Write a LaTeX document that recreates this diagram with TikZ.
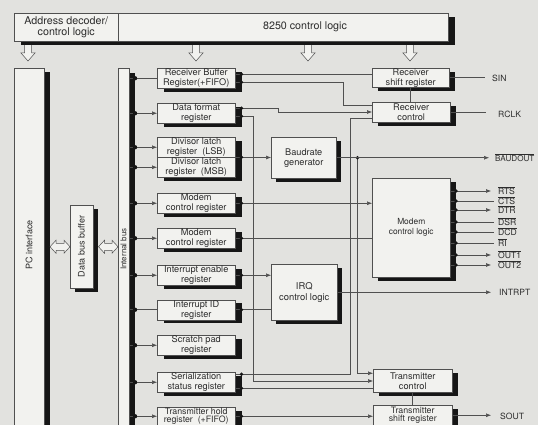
\documentclass[tikz,border=0pt]{standalone}
\usepackage{fontspec}
\setmainfont{TeX Gyre Heros}
\usetikzlibrary{shadows,arrows.meta,calc}
\definecolor{bg}{RGB}{226,226,223}
\definecolor{boxc}{RGB}{242,242,239}
\definecolor{linec}{RGB}{80,80,80}
\definecolor{shc}{RGB}{22,22,22}
\definecolor{txt}{RGB}{45,45,45}
\newsavebox\ovlbox
\newcommand\ovl[1]{\sbox\ovlbox{#1}\rlap{\rule[\dimexpr\ht\ovlbox+0.9pt\relax]{\wd\ovlbox}{0.45pt}}\usebox\ovlbox}
\newcommand\DnArr[1]{\draw[hollow] let \p1=(#1) in (\x1-3.5pt,\y1) -- (\x1-3.5pt,\y1-13pt) -- (\x1-7pt,\y1-13pt) -- (\x1,\y1-21pt) -- (\x1+7pt,\y1-13pt) -- (\x1+3.5pt,\y1-13pt) -- (\x1+3.5pt,\y1);}
\newcommand\DblArr[2]{\draw[hollow] let \p1=(#1), \p2=(#2) in (\x1,\y1) -- (\x1+6pt,\y1+6.5pt) -- (\x1+6pt,\y1+3.5pt) -- (\x2-6pt,\y1+3.5pt) -- (\x2-6pt,\y1+6.5pt) -- (\x2,\y1) -- (\x2-6pt,\y1-6.5pt) -- (\x2-6pt,\y1-3.5pt) -- (\x1+6pt,\y1-3.5pt) -- (\x1+6pt,\y1-6.5pt) -- cycle;}
\begin{document}
\begin{tikzpicture}[x=1pt,y=-1pt,
  every node/.style={text=txt},
  shad/.style 2 args={general shadow={fill=shc, draw=none, shadow xshift=#1, shadow yshift=#2}},
  blk/.style={draw=linec, line width=0.5pt, fill=boxc, inner sep=0pt, align=center,
    font=\fontsize{9.2}{10}\selectfont, anchor=north west},
  reg/.style={blk, shad={6.5pt}{-3.5pt}, minimum width=78pt, minimum height=20pt},
  topf/.style={font=\fontsize{10.7}{11}\selectfont},
  conn/.style={draw=linec, line width=0.6pt},
  arr/.style={conn, -{Latex[length=5pt,width=4pt]}},
  sig/.style={font=\fontsize{8.6}{9}\selectfont, anchor=west, inner sep=0pt},
  hollow/.style={draw=linec, line width=0.5pt, fill=boxc, line join=miter}
]
\useasboundingbox (0,0) rectangle (538,425);
\fill[bg] (0,0) rectangle (538,425);

% hollow arrows from control logic
\coordinate (ta1) at (28,40);
\coordinate (ta2) at (196,40);
\coordinate (ta3) at (308,40);
\coordinate (ta4) at (410,40);
\foreach \c in {ta1,ta2,ta3,ta4} {\DnArr{\c}}

% top bar
\node[blk, topf, shad={7pt}{-3.5pt}, minimum width=104pt, minimum height=28pt] (addr) at (14,13) {Address decoder/\\control logic};
\node[blk, shad={7pt}{-3.5pt}, minimum width=330pt, minimum height=28pt] (ctl) at (118,13) {};
\node[topf, inner sep=0pt] (ctltxt) at (305,27) {8250 control logic};

% PC interface, data bus buffer, internal bus
\node[blk, shad={5.5pt}{-4pt}, minimum width=30pt, minimum height=380pt] (pci) at (14,68) {};
\node[rotate=90, font=\fontsize{9}{10}\selectfont, inner sep=0pt] (pcit) at (29,245) {PC interface};
\node[blk, shad={5pt}{-4pt}, minimum width=23pt, minimum height=83pt] (dbb) at (70,205) {};
\node[rotate=90, font=\fontsize{9}{10}\selectfont, inner sep=0pt] (dbbt) at (81.5,246.5) {Data bus buffer};
\node[blk, shad={6pt}{-5pt}, minimum width=11pt, minimum height=380pt] (ibus) at (118,68) {};
\node[rotate=90, font=\fontsize{8}{9}\selectfont, inner sep=0pt] (ibust) at (123.5,249) {Internal bus};

\DblArr{$(pci.east |- dbb.west)+(5.5,0)$}{dbb.west}
\DblArr{$(dbb.east)+(5,0)$}{ibus.west |- dbb.east}

% registers
\node[reg] (rbr) at (157,68) {Receiver Buffer\\Register(+FIFO)};
\node[reg] (dfr) at (157,103) {Data format\\register};
\node[reg] (lsb) at (157,137) {Divisor latch\\register\ \ (LSB)};
\node[reg] (msb) at (157,157) {Divisor latch\\register\ \ (MSB)};
\node[reg] (mc1) at (157,193) {Modem\\control register};
\node[reg] (mc2) at (157,228) {Modem\\control register};
\node[reg] (ier) at (157,265) {Interrupt enable\\register};
\node[reg] (iid) at (157,299.5) {Interrupt ID\\register};
\node[reg] (spr) at (157,335) {Scratch pad\\register};
\node[reg] (ssr) at (157,372) {Serialization\\status register};
\node[reg, minimum height=18pt, font=\fontsize{8.8}{8.8}\selectfont] (thr) at (157,407) {Transmitter hold\\register\ \ (+FIFO)};

% middle and right blocks
\node[blk, shad={5pt}{-4pt}, minimum width=65pt, minimum height=41pt] (baud) at (271,137) {Baudrate\\generator};
\node[blk, shad={5pt}{-4pt}, minimum width=66pt, minimum height=56pt, font=\fontsize{9.4}{11}\selectfont] (irq) at (271,264) {IRQ\\control logic};
\node[blk, shad={6pt}{-3.5pt}, minimum width=77pt, minimum height=19pt] (rsr) at (372,68) {Receiver\\shift register};
\node[blk, shad={6pt}{-3.5pt}, minimum width=78pt, minimum height=20pt] (rc) at (372,102) {Receiver\\control};
\node[blk, shad={6pt}{-4pt}, minimum width=78pt, minimum height=99pt, font=\fontsize{8.4}{10}\selectfont] (mcl) at (372,178) {Modem\\control logic};
\node[blk, shad={6pt}{-3.5pt}, minimum width=79pt, minimum height=23pt] (tc) at (373,369) {Transmitter\\control};
\node[blk, shad={6pt}{-3.5pt}, minimum width=79pt, minimum height=20pt, font=\fontsize{8.8}{8.8}\selectfont] (tsr) at (373,405) {Transmitter\\shift register};

% internal bus to registers
\foreach \r in {dfr,lsb,msb,mc1,mc2,ier,spr,ssr,thr} {\draw[arr] (ibus.east |- \r.west) -- (\r.west);}
\foreach \r in {rbr,iid} {\draw[conn] (ibus.east |- \r.west) -- (\r.west);}
\foreach \r in {rbr,dfr,lsb,msb,mc1,mc2,ier,iid,spr,ssr,thr} {\fill[shc] ($(ibus.east |- \r.west)+(5.5,0)$) circle (2.2);}

% bend points
\coordinate (k1) at (343,105);
\coordinate (k2) at (278,112);
\coordinate (k3) at (253,381);
\coordinate (k4) at (350,118);
\path (baud.east) -- ++(21,0) coordinate (d1);

% register outputs
\draw[conn] ([yshift=4pt]rbr.east) -- ([yshift=4pt]rbr.east -| rsr.west);
\draw[conn] ([yshift=-4pt]rbr.east) -| (k1) -- (k1 -| rc.west);
\draw[arr] ([yshift=5pt]dfr.east) -| (k2) -- (k2 -| rc.west);
\draw[arr] ([yshift=-3pt]dfr.east) -| (k3) -- (k3 -| tc.west);
\draw[arr] (lsb.south east) -- (lsb.south east -| baud.west);
\draw[arr] (mc1.east) -- (mc1.east -| mcl.west);
\draw[conn] (mc2.east) -- (mc2.east -| mcl.west);
\draw[arr] (ier.east) -- (ier.east -| irq.west);
\draw[conn] (iid.east) -- (iid.east -| irq.west);
\draw[conn] ([yshift=8pt]ssr.east) -| (k4) -- (k4 -| rc.west);
\draw[conn] ([yshift=-6pt]ssr.east) -- ([yshift=-6pt]ssr.east -| tc.west);
\draw[arr] (thr.east) -- (thr.east -| tsr.west);
\draw[arr] (d1) |- ([yshift=7.5pt]tc.west);
\fill[shc] (d1) circle (1.8);
\draw[conn] (rsr.south) -- (rsr.south |- rc.north);
\draw[conn] (tc.south) -- (tc.south |- tsr.north);

% dots where outputs leave the shadows
\foreach \nd/\dy in {rbr/-4, rbr/4, dfr/-5, dfr/3, lsb/10, mc1/0, mc2/0, ier/0, iid/0, ssr/-8, ssr/6, thr/0}
  {\fill[shc] ($(\nd.east)+(6,\dy)$) circle (1.9);}

% external signals
\node[sig] (sin) at (492,78) {SIN};
\draw[conn] (rsr.east) -- ($(rsr.east -| sin.west)+(-7,0)$);
\node[sig] (rclk) at (498,114) {RCLK};
\draw[conn] (rc.east) -- ($(rc.east -| rclk.west)+(-12,0)$);
\node[sig, font=\fontsize{8.1}{9}\selectfont] (bo) at (495,157.5) {\ovl{BAUDOUT}};
\draw[arr] (baud.east) -- ($(baud.east -| bo.west)+(-6,0)$);
\node[sig] (intr) at (499,292) {INTRPT};
\draw[arr] (irq.east) -- ($(irq.east -| intr.west)+(-8,0)$);
\node[sig] (sout) at (500,416) {SOUT};
\draw[arr] (tsr.east) -- ($(tsr.east -| sout.west)+(-9,0)$);

\foreach \y/\nm/\tx in {191/rts/RTS, 210/dtr/DTR, 255/outa/OUT1, 265/outb/OUT2} {
  \node[sig] (\nm) at (498,\y) {\ovl{\tx}};
  \draw[arr] (mcl.east |- \nm.west) -- ($(\nm.west)+(-7,0)$);
  \fill[shc] ($(mcl.east |- \nm.west)+(5.5,0)$) circle (1.9);
}
\foreach \y/\nm/\tx in {201/cts/CTS, 222/dsr/DSR, 232/dcd/DCD, 243/ri/RI} {
  \node[sig] (\nm) at (498,\y) {\ovl{\tx}};
  \draw[conn] (mcl.east |- \nm.west) -- ($(\nm.west)+(-4,0)$);
  \fill[shc] ($(mcl.east |- \nm.west)+(5.5,0)$) circle (1.9);
}
\end{tikzpicture}
\end{document}
